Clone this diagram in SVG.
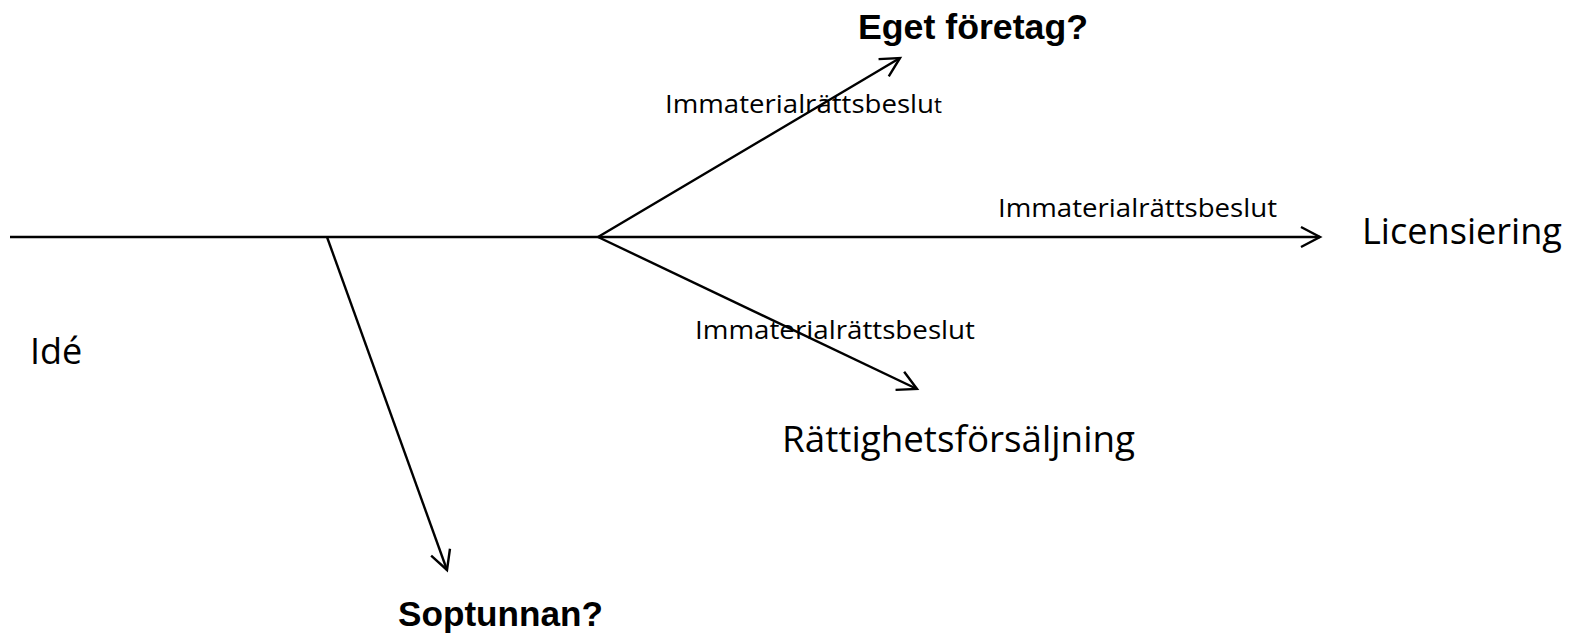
<svg xmlns="http://www.w3.org/2000/svg" width="1575" height="634" viewBox="0 0 1575 634">
  <style>
    .ln { stroke:#000; stroke-width:2.4; fill:none; }
    .lbl { font-family:"Open Sans","Noto Sans",sans-serif; font-size:26px; fill:#000; }
    .big { font-family:"Open Sans","Noto Sans",sans-serif; font-size:36px; fill:#000; }
    .bold { font-family:"Liberation Sans",Arial,sans-serif; font-size:35px; font-weight:bold; fill:#000; }
  </style>
  <defs>
    <marker id="arr" markerUnits="userSpaceOnUse" viewBox="-22 -12 24 24" refX="0" refY="0" markerWidth="24" markerHeight="24" orient="auto" overflow="visible">
      <path d="M -19 -10 L 0 0 L -19 10" fill="none" stroke="#000" stroke-width="2.4"/>
    </marker>
  </defs>
  <rect width="1575" height="634" fill="#fff"/>
  <g id="connectors">
    <line class="ln" x1="10" y1="237" x2="1320" y2="237" marker-end="url(#arr)"/>
    <line class="ln" x1="598" y1="237" x2="900" y2="58" marker-end="url(#arr)"/>
    <line class="ln" x1="598" y1="237" x2="917" y2="389" marker-end="url(#arr)"/>
    <line class="ln" x1="327" y1="237" x2="447" y2="570" marker-end="url(#arr)"/>
    <text class="lbl" x="665" y="113" textLength="277" lengthAdjust="spacingAndGlyphs">Immaterialrättsbeslu<tspan font-size="21">t</tspan></text>
    <text class="lbl" x="998" y="217" textLength="279" lengthAdjust="spacingAndGlyphs">Immaterialrättsbeslut</text>
    <text class="lbl" x="695" y="339" textLength="280" lengthAdjust="spacingAndGlyphs">Immaterialrättsbeslut</text>
  </g>
  <g id="ide"><text class="big" x="30" y="364">Idé</text></g>
  <g id="eget"><text class="bold" x="858" y="39" textLength="230" lengthAdjust="spacingAndGlyphs">Eget företag?</text></g>
  <g id="licensiering"><text class="big" x="1362" y="244" textLength="200" lengthAdjust="spacingAndGlyphs">Licensiering</text></g>
  <g id="rattighet"><text class="big" x="782" y="452" textLength="353" lengthAdjust="spacingAndGlyphs">Rättighetsförsäljning</text></g>
  <g id="soptunnan"><text class="bold" x="398" y="626" textLength="205" lengthAdjust="spacingAndGlyphs">Soptunnan?</text></g>
</svg>
